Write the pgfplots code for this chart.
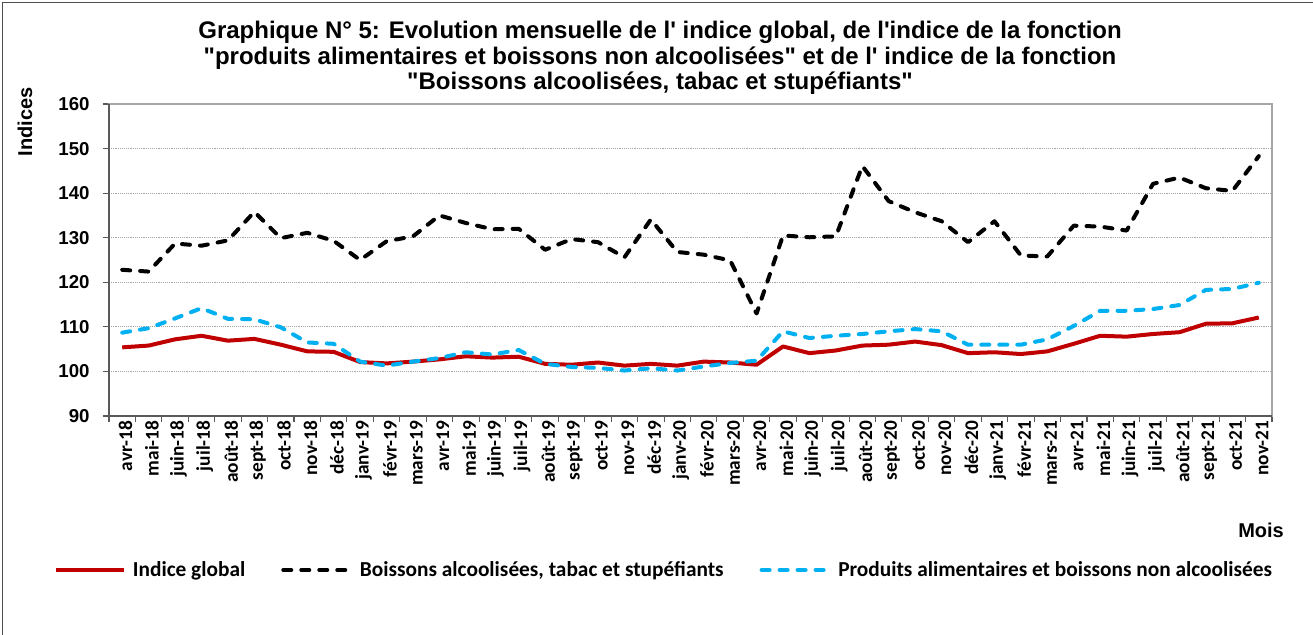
\documentclass[border=0pt]{standalone}
\usepackage{pgfplots}
\pgfplotsset{compat=1.18}
\usepackage{fontspec}
\setmainfont{Liberation Sans}[Ligatures=TeXOff]
\newfontfamily\calib{Carlito}
\definecolor{cred}{HTML}{C00000}
\definecolor{cblue}{HTML}{00B0F0}
\definecolor{frame}{HTML}{A6A6A6}
\definecolor{axdark}{HTML}{595959}
\begin{document}
\begin{tikzpicture}
\useasboundingbox (0,0) rectangle (984.75pt,476.25pt);
\draw[black!70, line width=0.75pt] (1.8pt,0) -- (1.8pt,474.6pt) -- (984.75pt,474.6pt);
\begin{axis}[
  at={(81.75pt,164.25pt)}, anchor=south west,
  scale only axis, width=872.25pt, height=234pt,
  clip=false,
  xmin=-0.5, xmax=43.5, ymin=90, ymax=160,
  ytick={90,100,...,160},
  xtick={-0.5,0.5,...,43.5}, xticklabels={},
  extra x ticks={0,1,...,43},
  extra x tick labels={avr-18,mai-18,juin-18,juil-18,août-18,sept-18,oct-18,nov-18,déc-18,janv-19,févr-19,mars-19,avr-19,mai-19,juin-19,juil-19,août-19,sept-19,oct-19,nov-19,déc-19,janv-20,févr-20,mars-20,avr-20,mai-20,juin-20,juil-20,août-20,sept-20,oct-20,nov-20,déc-20,janv-21,févr-21,mars-21,avr-21,mai-21,juin-21,juil-21,août-21,sept-21,oct-21,nov-21},
  extra x tick style={major tick length=0pt},
  tick pos=left,
  tick align=outside, major tick length=4.5pt,
  ymajorgrids, grid style={gray!70, densely dotted, line width=0.6pt},
  axis line style={draw=frame, line width=1.5pt},
  tick style={axdark, line width=0.8pt},
  /pgf/number format/assume math mode=true,
  yticklabel style={font=\bfseries\fontsize{14}{16}\selectfont, xshift=-6.5pt},
  xticklabel style={font=\calib\bfseries\fontsize{14.5}{16}\selectfont, rotate=90, anchor=east, yshift=-2.5pt},
  legend columns=3,
  legend style={at={(0.4776,-0.4936)}, anchor=center, draw=none, fill=none,
    font=\calib\bfseries\fontsize{16}{19}\selectfont,
    /tikz/every even column/.append style={column sep=25pt},
    /tikz/every odd column/.append style={column sep=3pt}},
  legend image code/.code={\draw[#1] (0pt,0pt) -- (51pt,0pt);},
]
\addplot[cred, line width=3pt, line join=round] coordinates {
(0,105.4)(1,105.8)(2,107.2)(3,108.0)(4,106.9)(5,107.3)(6,106.0)(7,104.5)(8,104.4)(9,102.1)
(10,101.8)(11,102.2)(12,102.7)(13,103.4)(14,103.1)(15,103.3)(16,101.7)(17,101.5)(18,102.0)(19,101.3)
(20,101.7)(21,101.3)(22,102.2)(23,102.0)(24,101.5)(25,105.6)(26,104.1)(27,104.7)(28,105.8)(29,106.0)
(30,106.7)(31,105.9)(32,104.1)(33,104.3)(34,103.9)(35,104.5)(36,106.2)(37,108.0)(38,107.8)(39,108.4)
(40,108.8)(41,110.7)(42,110.8)(43,112.1)};
\addlegendentry{Indice global}
\addplot[black, line width=3pt, line cap=round, line join=round, dash pattern=on 6pt off 7.5pt] coordinates {
(0,122.8)(1,122.4)(2,128.7)(3,128.2)(4,129.4)(5,135.8)(6,129.9)(7,131.1)(8,129.3)(9,125.0)
(10,129.2)(11,130.3)(12,135.0)(13,133.3)(14,131.9)(15,132.0)(16,127.3)(17,129.7)(18,129.0)(19,125.6)
(20,134.1)(21,126.8)(22,126.2)(23,124.9)(24,113.0)(25,130.5)(26,130.1)(27,130.3)(28,146.1)(29,138.2)
(30,135.7)(31,133.7)(32,129.0)(33,133.7)(34,126.0)(35,125.8)(36,132.7)(37,132.5)(38,131.6)(39,142.1)
(40,143.5)(41,141.1)(42,140.5)(43,148.3)};
\addlegendentry{Boissons alcoolisées, tabac et stupéfiants}
\addplot[cblue, line width=3pt, line cap=round, line join=round, dash pattern=on 6pt off 7.5pt] coordinates {
(0,108.7)(1,109.7)(2,111.9)(3,114.2)(4,111.8)(5,111.7)(6,109.9)(7,106.5)(8,106.2)(9,102.2)
(10,101.3)(11,102.2)(12,103.0)(13,104.3)(14,103.8)(15,104.8)(16,101.7)(17,101.0)(18,100.8)(19,100.2)
(20,100.7)(21,100.2)(22,101.1)(23,101.9)(24,102.4)(25,109.0)(26,107.5)(27,108.0)(28,108.4)(29,109.0)
(30,109.5)(31,109.0)(32,106.0)(33,106.0)(34,106.0)(35,107.2)(36,110.2)(37,113.6)(38,113.6)(39,114.0)
(40,114.9)(41,118.3)(42,118.5)(43,119.9)};
\addlegendentry{Produits alimentaires et boissons non alcoolisées}
\draw[axdark, line width=1.2pt] (rel axis cs:0,1) -- (rel axis cs:0,0) -- (rel axis cs:1,0);
\node[font=\bfseries\fontsize{15}{18}\selectfont, rotate=90] at (axis description cs:-0.0722,0.942) {Indices};
\node[font=\bfseries\fontsize{15}{18}\selectfont] at (axis description cs:0.9906,-0.3654) {Mois};
\node[font=\bfseries\fontsize{18}{20}\selectfont, anchor=base] at (axis description cs:0.4738,1.2115) {Graphique N° 5: Evolution mensuelle de l' indice global, de l'indice de la fonction};
\node[font=\bfseries\fontsize{18}{20}\selectfont, anchor=base] at (axis description cs:0.4738,1.1282) {"produits alimentaires et boissons non alcoolisées" et de l' indice de la fonction};
\node[font=\bfseries\fontsize{18}{20}\selectfont, anchor=base] at (axis description cs:0.4738,1.0449) {"Boissons alcoolisées, tabac et stupéfiants"};
\end{axis}
\end{tikzpicture}
\end{document}
